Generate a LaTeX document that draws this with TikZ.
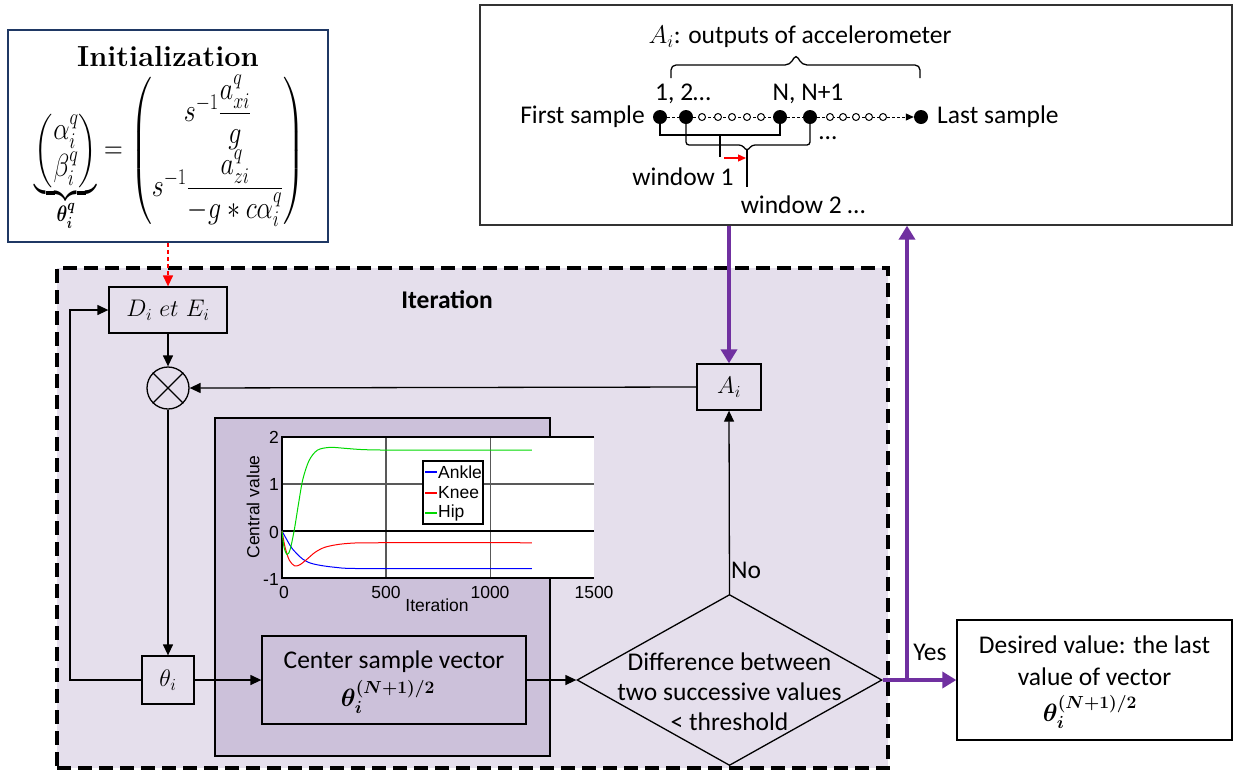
\RequirePackage{fix-cm}
\documentclass[tikz,border=0pt]{standalone}
\usepackage{amsmath,bm,graphicx}
\usepackage{fontspec}
\usetikzlibrary{arrows.meta,shapes.geometric,calc}
\newfontfamily\calibri{Carlito}
\newfontfamily\arialf{Liberation Sans}
\definecolor{lav}{HTML}{E5DFEC}
\definecolor{lavdark}{HTML}{CCC1DA}
\definecolor{purp}{HTML}{7030A0}
\definecolor{navy}{HTML}{1F3864}
\begin{document}
\begin{tikzpicture}[x=1pt,y=-1pt,
  lbl/.style={font=\calibri\fontsize{25.5}{29}\selectfont, inner sep=0pt},
  blk/.style={draw, line width=1.3pt, inner sep=0pt},
  arr/.style={line width=1.3pt, -{Triangle[length=11pt,width=10pt]}},
  parr/.style={draw=purp, line width=4pt, -{Triangle[length=14pt,width=16pt]}},
  chart/.style={font=\arialf\fontsize{17.5}{20}\selectfont, inner sep=0pt},
  bigdot/.style={circle, fill=black, minimum size=14pt, inner sep=0pt},
  smalldot/.style={circle, draw, fill=white, line width=1pt, minimum size=7pt, inner sep=0pt}]
\useasboundingbox (0,0) rectangle (1234,772);

% big dashed iteration box
\node[draw, dash pattern=on 14pt off 7pt, line width=4pt, fill=lav, minimum width=831pt, minimum height=500pt, inner sep=0] (iter) at (472.5,518) {};
\node[font=\calibri\bfseries\fontsize{25.5}{29}\selectfont] (itertitle) at (447,300) {Iteration};

% darker box
\node[blk, fill=lavdark, minimum width=335pt, minimum height=338pt] (dark) at (382.5,587) {};

% chart
\begin{scope}[shift={(282,531)}, x=0.2083pt, y=47pt]
  \fill[white] (0,-1) rectangle (1500,2);
  \draw[line width=1.5pt, black!65] (500,-1) -- (500,2) (1000,-1) -- (1000,2);
  \draw[line width=1.5pt, black!65] (0,1) -- (1500,1);
  \draw[line width=1.3pt] (0,0) -- (1500,0);
  \draw[line width=1.5pt] (1500,2) -- (0,2) -- (0,-1) -- (1500,-1);
  \draw[blue, line width=1pt] plot[smooth] coordinates {(0,0) (25,-0.2) (50,-0.38) (100,-0.6) (150,-0.7) (250,-0.77) (400,-0.8) (1200,-0.8)};
  \draw[red, line width=1pt] plot[smooth] coordinates {(0,0) (15,-0.35) (35,-0.62) (60,-0.74) (85,-0.72) (120,-0.6) (160,-0.45) (210,-0.34) (300,-0.27) (450,-0.25) (1200,-0.25)};
  \draw[green!85!black, line width=1pt] plot[smooth] coordinates {(0,0) (10,-0.35) (25,-0.5) (40,-0.38) (60,0.05) (80,0.6) (100,1.1) (130,1.5) (170,1.72) (230,1.78) (300,1.76) (400,1.73) (600,1.72) (1200,1.72)};
\end{scope}
\node[chart, anchor=east] (t2) at (279,437) {2};
\node[chart, anchor=east] (t1) at (279,484) {1};
\node[chart, anchor=east] (t0) at (279,532) {0};
\node[chart, anchor=east] (tm1) at (279,579) {-1};
\node[chart] (x0) at (284,592) {0};
\node[chart] (x500) at (386,592) {500};
\node[chart] (x1000) at (490,592) {1000};
\node[chart] (x1500) at (594,592) {1500};
\node[chart] (xlab) at (437,605) {Iteration};
\node[chart, rotate=90] (ylab) at (253,507) {Central value};
\node[draw, line width=1.5pt, fill=white, minimum width=60pt, minimum height=63pt, inner sep=0] (legend) at (453,492.5) {};
\draw[blue, line width=1.6pt] (425,472) -- (437,472);
\draw[red, line width=1.6pt] (425,493) -- (437,493);
\draw[green!85!black, line width=1.6pt] (425,513) -- (437,513);
\node[chart, anchor=west] (lg1) at (438,472) {Ankle};
\node[chart, anchor=west] (lg2) at (438,493) {Knee};
\node[chart, anchor=west] (lg3) at (438,513) {Hip};

% initialization box
\node[draw=navy, line width=1.5pt, fill=white, minimum width=320pt, minimum height=212pt, inner sep=0] (init) at (168,136) {};
\node[font=\bfseries\fontsize{29}{32}\selectfont] (inittitle) at (168,57) {Initialization};
\node[font=\fontsize{26}{30}\selectfont, inner sep=0] (eq) at (170,153) {\resizebox*{270pt}{157pt}{$\underbrace{\begin{pmatrix}\alpha_i^q\\ \beta_i^q\end{pmatrix}}_{\bm{\theta_i^q}} = \left(\begin{matrix} s^{-1}\dfrac{a_{xi}^q}{g}\\[14pt] s^{-1}\dfrac{a_{zi}^q}{-g*c\alpha_i^q}\end{matrix}\right)$}};

% flow boxes
\node[blk, fill=lav, minimum width=118pt, minimum height=46pt, font=\fontsize{24}{28}\selectfont] (D) at (168,310) {$D_i\ et\ E_i$};
\node[draw, circle, line width=1.3pt, minimum size=42pt, inner sep=0] (mul) at (168,388) {};
\draw[line width=1.3pt] (mul.north west) -- (mul.south east) (mul.north east) -- (mul.south west);
\node[blk, fill=lav, minimum width=64pt, minimum height=46pt, font=\fontsize{24}{28}\selectfont] (A) at (729,387) {$A_i$};
\node[blk, fill=lav, minimum width=52pt, minimum height=48pt, font=\fontsize{24}{28}\selectfont] (th) at (168,680) {$\theta_i$};
\node[blk, fill=lavdark, minimum width=264pt, minimum height=88pt] (center) at (394,680) {};
\node[lbl] (ctext1) at (394,662) {Center sample vector};
\node[font=\fontsize{25}{28}\selectfont] (ctext2) at (388,697) {$\bm{\theta_i^{(N+1)/2}}$};

\node[draw, diamond, line width=1.3pt, minimum width=305pt, minimum height=171pt, inner sep=0] (dia) at (729.5,680) {};
\node[lbl, align=center, font=\calibri\fontsize{25.5}{30}\selectfont] (diatext) at (729.5,692) {Difference between\\two successive values\\< threshold};

\node[draw, line width=1.3pt, fill=white, minimum width=275pt, minimum height=120pt, inner sep=0] (des) at (1094.5,680) {};
\node[lbl, align=center, font=\calibri\fontsize{25.5}{32}\selectfont] (destext) at (1094.5,661) {Desired value: the last\\value of vector};
\node[font=\fontsize{25}{28}\selectfont] (destheta) at (1090,712) {$\bm{\theta_i^{(N+1)/2}}$};

% accelerometer box
\node[draw=black!80, line width=1.3pt, fill=white, minimum width=752pt, minimum height=220pt, inner sep=0] (acc) at (856,115) {};
\node[lbl] (acctitle) at (800,37) {$A_i$: outputs of accelerometer};
\draw[line width=1.3pt, rounded corners=5pt] (671,78) |- (790,65) -- (796,54) -- (802,65) -| (920,78);
\node[bigdot] (s1) at (660,117) {};
\node[bigdot] (s2) at (686,117) {};
\node[bigdot] (sN) at (780,117) {};
\node[bigdot] (sN1) at (810,117) {};
\node[bigdot] (sL) at (921,117) {};
\draw[line width=1pt, dash pattern=on 3pt off 2pt] (s1) -- (s2);
\draw[line width=1pt, dash pattern=on 3pt off 2pt] (s2) -- (sN);
\draw[line width=1pt, dash pattern=on 3pt off 2pt] (sN) -- (sN1);
\draw[line width=1pt, dash pattern=on 3pt off 2pt] (sN1) -- (883,117);
\foreach \x [count=\k] in {702,718,732,747,761} {\node[smalldot] (o\k) at (\x,117) {};}
\foreach \x [count=\k] in {830,843,856,869,883} {\node[smalldot] (p\k) at (\x,117) {};}
\draw[line width=1pt, dash pattern=on 3pt off 2pt, -{Triangle[length=8pt,width=7pt]}] (p5) -- (sL);
\node[lbl, anchor=east] (first) at (645,117) {First sample};
\node[lbl, anchor=west] (last) at (937,117) {Last sample};
\node[lbl] (l12) at (683,94) {1, 2\dots};
\node[lbl] (lN) at (808,94) {N, N+1};
% windows
\draw[line width=1.3pt] (660,124) |- (780,135) -- (780,124);
\draw[line width=1.3pt] (720,135) -- (720,157);
\draw[line width=1.3pt, rounded corners=3pt] (686,124) |- (742,145) -- (747,151) -- (752,145) -| (810,124);
\draw[line width=1.3pt] (747,150) -- (747,187);
\draw[red, line width=1.3pt, -{Triangle[length=8pt,width=7pt]}] (724,158) -- (746,158);
\node[lbl] (dots) at (828,138) {\dots};
\node[lbl] (w1) at (683,177) {window 1};
\node[lbl] (w2) at (803,205) {window 2 \dots};

% connectors
\draw[red, line width=1.3pt, dash pattern=on 4pt off 3pt, -{Triangle[length=11pt,width=10pt]}] (init.south) -- (D.north);
\draw[arr] (D.south) -- (mul.north);
\draw[arr] (A.west) -- (mul.east);
\draw[arr] (mul.south) -- (th.north);
\coordinate (fb) at (70,680);
\draw[arr] (th.west) -- (fb) |- (D.west);
\draw[arr] (th.east) -- (center.west);
\draw[arr] (center.east) -- (dia.west);
\draw[arr] (dia.north) -- (A.south);
\node[lbl] (no) at (746,570) {No};
\draw[parr] (A.north |- acc.south) -- (A.north);
\coordinate (yb) at (907,680);
\draw[parr] (yb) -- (yb |- acc.south);
\draw[parr] (dia.east) -- (des.west);
\node[lbl] (yes) at (930,652) {Yes};
\end{tikzpicture}
\end{document}
